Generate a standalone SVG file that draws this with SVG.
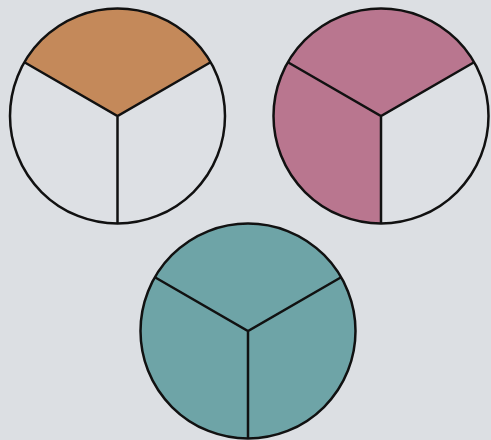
<svg xmlns="http://www.w3.org/2000/svg" width="491" height="440" viewBox="0 0 491 440">
<style>
.o{fill:none;stroke:#111;stroke-width:2.5}
.l{stroke:#111;stroke-width:2.5;fill:none}
</style>
<rect width="491" height="440" fill="#dcdfe3"/>
<g id="circle1" transform="translate(117.5,116)">
<circle r="107.5" fill="#dde0e4"/>
<path d="M0,0 L-93.1,-53.75 A107.5,107.5 0 0 1 93.1,-53.75 Z" fill="#c4895a"/>
<path class="l" d="M-93.1,-53.75 L0,0 L93.1,-53.75 M0,0 L0,107.5"/>
<circle class="o" r="107.5"/>
</g>
<g id="circle2" transform="translate(381,116)">
<circle r="107.5" fill="#dde0e4"/>
<path d="M0,0 L93.1,-53.75 A107.5,107.5 0 1 0 0,107.5 Z" fill="#b9768f"/>
<path class="l" d="M-93.1,-53.75 L0,0 L93.1,-53.75 M0,0 L0,107.5"/>
<circle class="o" r="107.5"/>
</g>
<g id="circle3" transform="translate(248,331)">
<circle r="107.5" fill="#6ea4a7"/>
<path class="l" d="M-93.1,-53.75 L0,0 L93.1,-53.75 M0,0 L0,107.5"/>
<circle class="o" r="107.5"/>
</g>
</svg>
